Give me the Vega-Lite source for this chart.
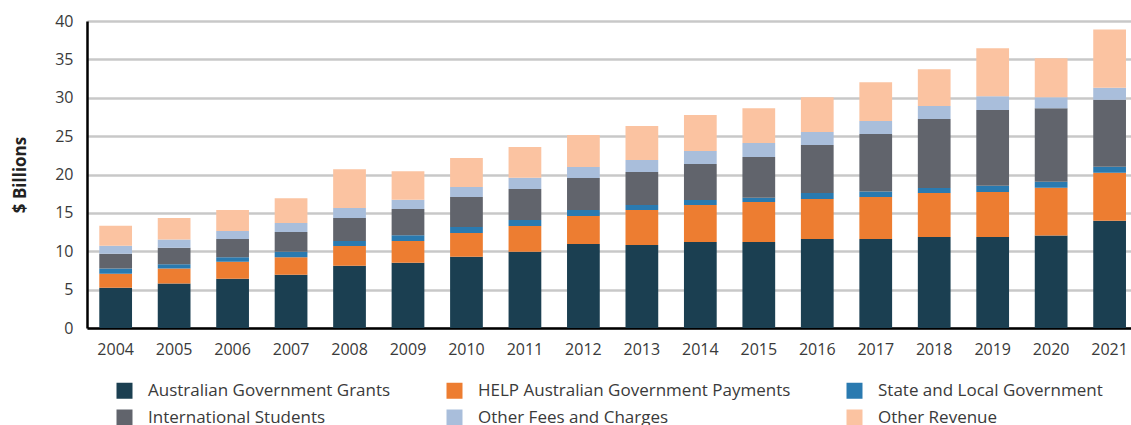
{
  "$schema": "https://vega.github.io/schema/vega-lite/v6.json",
  "autosize": {"type": "none"},
  "padding": {"left": 87, "top": 21, "right": 0, "bottom": 97},
  "width": 1044,
  "height": 307,
  "background": "white",
  "config": {
    "view": {"stroke": null},
    "font": "Open Sans",
    "axis": {"labelFont": "Open Sans", "labelColor": "#3a3a3a", "labelFontSize": 16, "ticks": false, "domainColor": "#000000", "domainWidth": 2.5, "gridColor": "#c8c8c8", "gridWidth": 2.5}
  },
  "datasets": {
    "stackorder": [
      {"cat": "Australian Government Grants", "k": 1},
      {"cat": "HELP Australian Government Payments", "k": 2},
      {"cat": "State and Local Government", "k": 3},
      {"cat": "International Students", "k": 4},
      {"cat": "Other Fees and Charges", "k": 5},
      {"cat": "Other Revenue", "k": 6}
    ],
    "revenue": [
    {"year":"2004","cat":"Australian Government Grants","v":5.24},{"year":"2004","cat":"HELP Australian Government Payments","v":1.82},{"year":"2004","cat":"State and Local Government","v":0.70},{"year":"2004","cat":"International Students","v":1.90},{"year":"2004","cat":"Other Fees and Charges","v":1.05},{"year":"2004","cat":"Other Revenue","v":2.60},
    {"year":"2005","cat":"Australian Government Grants","v":5.80},{"year":"2005","cat":"HELP Australian Government Payments","v":1.95},{"year":"2005","cat":"State and Local Government","v":0.57},{"year":"2005","cat":"International Students","v":2.12},{"year":"2005","cat":"Other Fees and Charges","v":1.08},{"year":"2005","cat":"Other Revenue","v":2.82},
    {"year":"2006","cat":"Australian Government Grants","v":6.41},{"year":"2006","cat":"HELP Australian Government Payments","v":2.21},{"year":"2006","cat":"State and Local Government","v":0.61},{"year":"2006","cat":"International Students","v":2.38},{"year":"2006","cat":"Other Fees and Charges","v":1.04},{"year":"2006","cat":"Other Revenue","v":2.73},
    {"year":"2007","cat":"Australian Government Grants","v":6.93},{"year":"2007","cat":"HELP Australian Government Payments","v":2.30},{"year":"2007","cat":"State and Local Government","v":0.69},{"year":"2007","cat":"International Students","v":2.60},{"year":"2007","cat":"Other Fees and Charges","v":1.17},{"year":"2007","cat":"Other Revenue","v":3.21},
    {"year":"2008","cat":"Australian Government Grants","v":8.10},{"year":"2008","cat":"HELP Australian Government Payments","v":2.60},{"year":"2008","cat":"State and Local Government","v":0.65},{"year":"2008","cat":"International Students","v":2.99},{"year":"2008","cat":"Other Fees and Charges","v":1.30},{"year":"2008","cat":"Other Revenue","v":5.04},
    {"year":"2009","cat":"Australian Government Grants","v":8.49},{"year":"2009","cat":"HELP Australian Government Payments","v":2.86},{"year":"2009","cat":"State and Local Government","v":0.74},{"year":"2009","cat":"International Students","v":3.42},{"year":"2009","cat":"Other Fees and Charges","v":1.21},{"year":"2009","cat":"Other Revenue","v":3.70},
    {"year":"2010","cat":"Australian Government Grants","v":9.27},{"year":"2010","cat":"HELP Australian Government Payments","v":3.12},{"year":"2010","cat":"State and Local Government","v":0.78},{"year":"2010","cat":"International Students","v":3.90},{"year":"2010","cat":"Other Fees and Charges","v":1.30},{"year":"2010","cat":"Other Revenue","v":3.78},
    {"year":"2011","cat":"Australian Government Grants","v":9.92},{"year":"2011","cat":"HELP Australian Government Payments","v":3.38},{"year":"2011","cat":"State and Local Government","v":0.78},{"year":"2011","cat":"International Students","v":4.03},{"year":"2011","cat":"Other Fees and Charges","v":1.47},{"year":"2011","cat":"Other Revenue","v":4.00},
    {"year":"2012","cat":"Australian Government Grants","v":10.96},{"year":"2012","cat":"HELP Australian Government Payments","v":3.64},{"year":"2012","cat":"State and Local Government","v":0.78},{"year":"2012","cat":"International Students","v":4.16},{"year":"2012","cat":"Other Fees and Charges","v":1.44},{"year":"2012","cat":"Other Revenue","v":4.16},
    {"year":"2013","cat":"Australian Government Grants","v":10.83},{"year":"2013","cat":"HELP Australian Government Payments","v":4.55},{"year":"2013","cat":"State and Local Government","v":0.65},{"year":"2013","cat":"International Students","v":4.30},{"year":"2013","cat":"Other Fees and Charges","v":1.56},{"year":"2013","cat":"Other Revenue","v":4.42},
    {"year":"2014","cat":"Australian Government Grants","v":11.22},{"year":"2014","cat":"HELP Australian Government Payments","v":4.81},{"year":"2014","cat":"State and Local Government","v":0.65},{"year":"2014","cat":"International Students","v":4.69},{"year":"2014","cat":"Other Fees and Charges","v":1.69},{"year":"2014","cat":"Other Revenue","v":4.68},
    {"year":"2015","cat":"Australian Government Grants","v":11.22},{"year":"2015","cat":"HELP Australian Government Payments","v":5.20},{"year":"2015","cat":"State and Local Government","v":0.56},{"year":"2015","cat":"International Students","v":5.30},{"year":"2015","cat":"Other Fees and Charges","v":1.82},{"year":"2015","cat":"Other Revenue","v":4.54},
    {"year":"2016","cat":"Australian Government Grants","v":11.61},{"year":"2016","cat":"HELP Australian Government Payments","v":5.20},{"year":"2016","cat":"State and Local Government","v":0.78},{"year":"2016","cat":"International Students","v":6.25},{"year":"2016","cat":"Other Fees and Charges","v":1.69},{"year":"2016","cat":"Other Revenue","v":4.54},
    {"year":"2017","cat":"Australian Government Grants","v":11.61},{"year":"2017","cat":"HELP Australian Government Payments","v":5.46},{"year":"2017","cat":"State and Local Government","v":0.70},{"year":"2017","cat":"International Students","v":7.50},{"year":"2017","cat":"Other Fees and Charges","v":1.69},{"year":"2017","cat":"Other Revenue","v":5.07},
    {"year":"2018","cat":"Australian Government Grants","v":11.87},{"year":"2018","cat":"HELP Australian Government Payments","v":5.72},{"year":"2018","cat":"State and Local Government","v":0.65},{"year":"2018","cat":"International Students","v":8.98},{"year":"2018","cat":"Other Fees and Charges","v":1.69},{"year":"2018","cat":"Other Revenue","v":4.81},
    {"year":"2019","cat":"Australian Government Grants","v":11.87},{"year":"2019","cat":"HELP Australian Government Payments","v":5.85},{"year":"2019","cat":"State and Local Government","v":0.83},{"year":"2019","cat":"International Students","v":9.84},{"year":"2019","cat":"Other Fees and Charges","v":1.82},{"year":"2019","cat":"Other Revenue","v":6.24},
    {"year":"2020","cat":"Australian Government Grants","v":12.04},{"year":"2020","cat":"HELP Australian Government Payments","v":6.24},{"year":"2020","cat":"State and Local Government","v":0.78},{"year":"2020","cat":"International Students","v":9.58},{"year":"2020","cat":"Other Fees and Charges","v":1.43},{"year":"2020","cat":"Other Revenue","v":5.08},
    {"year":"2021","cat":"Australian Government Grants","v":13.99},{"year":"2021","cat":"HELP Australian Government Payments","v":6.24},{"year":"2021","cat":"State and Local Government","v":0.78},{"year":"2021","cat":"International Students","v":8.72},{"year":"2021","cat":"Other Fees and Charges","v":1.56},{"year":"2021","cat":"Other Revenue","v":7.59}
    ]
  },
  "data": {"name": "revenue"},
  "transform": [
    {"lookup": "cat", "from": {"data": {"name": "stackorder"}, "key": "cat", "fields": ["k"]}}
  ],
  "mark": {"type": "bar"},
  "encoding": {
    "x": {
      "field": "year", "type": "ordinal",
      "scale": {"paddingInner": 0.44, "paddingOuter": 0.148, "align": 0.71},
      "axis": {"title": null, "labelAngle": 0, "labelPadding": 13, "grid": false}
    },
    "y": {
      "field": "v", "type": "quantitative", "stack": "zero",
      "scale": {"domain": [0, 40], "nice": false},
      "axis": {"values": [0,5,10,15,20,25,30,35,40], "title": "$ Billions", "titleFont": "Open Sans", "titleFontSize": 17, "titleFontWeight": "bold", "titleColor": "#222222", "titleAngle": 270, "titleAlign": "center", "titleBaseline": "middle", "titleX": -67, "titleY": 153.5, "labelPadding": 14}
    },
    "color": {
      "field": "cat", "type": "nominal",
      "scale": {
        "domain": ["Australian Government Grants", "HELP Australian Government Payments", "State and Local Government", "International Students", "Other Fees and Charges", "Other Revenue"],
        "range": ["#1b3f51", "#ed7d31", "#2a7ab0", "#61646c", "#a9bedb", "#fbc3a1"]
      },
      "legend": {
        "title": null, "orient": "none", "legendX": 29, "legendY": 361, "direction": "horizontal", "columns": 3,
        "columnPadding": 55, "rowPadding": 9, "symbolType": "square", "symbolSize": 256, "symbolStrokeWidth": 0,
        "labelFont": "Open Sans", "labelFontSize": 17, "labelColor": "#3a3a3a", "labelOffset": 15, "padding": 0, "labelLimit": 500
      }
    },
    "order": {"field": "k", "type": "quantitative", "sort": "ascending"}
  }
}
